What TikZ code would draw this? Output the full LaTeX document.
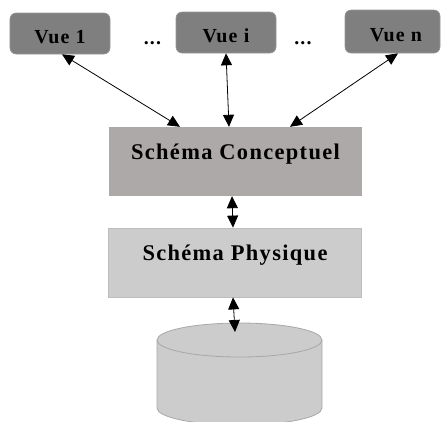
\documentclass[tikz,border=0pt]{standalone}
\usepackage{fontspec}
\setmainfont{Liberation Serif}[LetterSpace=6]
\usetikzlibrary{arrows.meta,calc}
\definecolor{vuefill}{HTML}{7F7F7F}
\definecolor{vueedge}{HTML}{989898}
\definecolor{concfill}{HTML}{ADA9A8}
\definecolor{physfill}{HTML}{CCCCCC}
\definecolor{physedge}{HTML}{BDBDBD}
\definecolor{cylfill}{HTML}{CCCCCC}
\definecolor{cyledge}{HTML}{A8A8A8}
\tikzset{
  vuebox/.style={draw=vueedge, fill=vuefill, rounded corners=6bp, inner sep=0pt,
    line width=0.6bp},
  vuetext/.style={inner sep=0pt, anchor=base, font=\fontsize{20}{22}\selectfont\bfseries},
  schbox/.style={inner sep=0pt, minimum height=69bp},
  schtext/.style={inner sep=0pt, font=\fontsize{22.5}{25}\selectfont\bfseries},
  link/.style={line width=0.8bp, {Triangle[length=12bp,width=11bp]}-{Triangle[length=12bp,width=11bp]}}
}
\begin{document}
\begin{tikzpicture}[x=1bp,y=-1bp]
\useasboundingbox (0,0) rectangle (441,421);

% external views
\node[vuebox, minimum width=100bp, minimum height=41bp] (v1) at (60,33.5) {};
\node[vuetext] (v1t) at (60,43) {Vue 1};
\node[vuebox, minimum width=100bp, minimum height=41bp] (vi) at (226,32.5) {};
\node[vuetext] (vit) at (226,42) {Vue i};
\node[vuebox, minimum width=95bp, minimum height=43bp] (vn) at (392.5,31.5) {};
\node[vuetext] (vnt) at (396,41) {Vue n};
\node[vuetext] (d1) at (152.5,44) {...};
\node[vuetext] (d2) at (303,44) {...};

% conceptual schema
\node[schbox, fill=concfill, minimum width=253bp] (sc) at (235.5,161.5) {};
\node[schtext] (sct) at ($(sc.center)+(0,-7)$) {Schéma Conceptuel};

% physical schema
\node[schbox, fill=physfill, draw=physedge, line width=0.8bp, minimum width=253bp] (sp) at (235,262.5) {};
\node[schtext] (spt) at ($(sp.center)+(0,-7.5)$) {Schéma Physique};

% database cylinder
\coordinate (cyl) at (239.5,340);
\path[fill=cylfill, draw=cyledge, line width=0.8bp]
  (157,340) -- (157,408) arc[start angle=180, end angle=360, x radius=82.5, y radius=-17]
  -- (322,340) arc[start angle=0, end angle=180, x radius=82.5, y radius=-17] -- cycle;
\draw[cyledge, line width=0.8bp] (157,340) arc[start angle=180, end angle=360, x radius=82.5, y radius=-17];

% links
\draw[link] ($(v1.south)+(2,0)$) -- ($(sc.north)+(-55.5,0)$);
\draw[link] (vi.south) -- ($(sc.north)+(-6.5,0)$);
\draw[link] ($(vn.south)+(5.5,0)$) -- ($(sc.north)+(54.5,0)$);
\draw[link] ($(sc.south)+(-3.5,0)$) -- ($(sp.north)+(-2,0)$);
\draw[link] ($(sp.south)+(-2,0)$) -- ($(cyl)+(-4.5,-8)$);
\end{tikzpicture}
\end{document}
